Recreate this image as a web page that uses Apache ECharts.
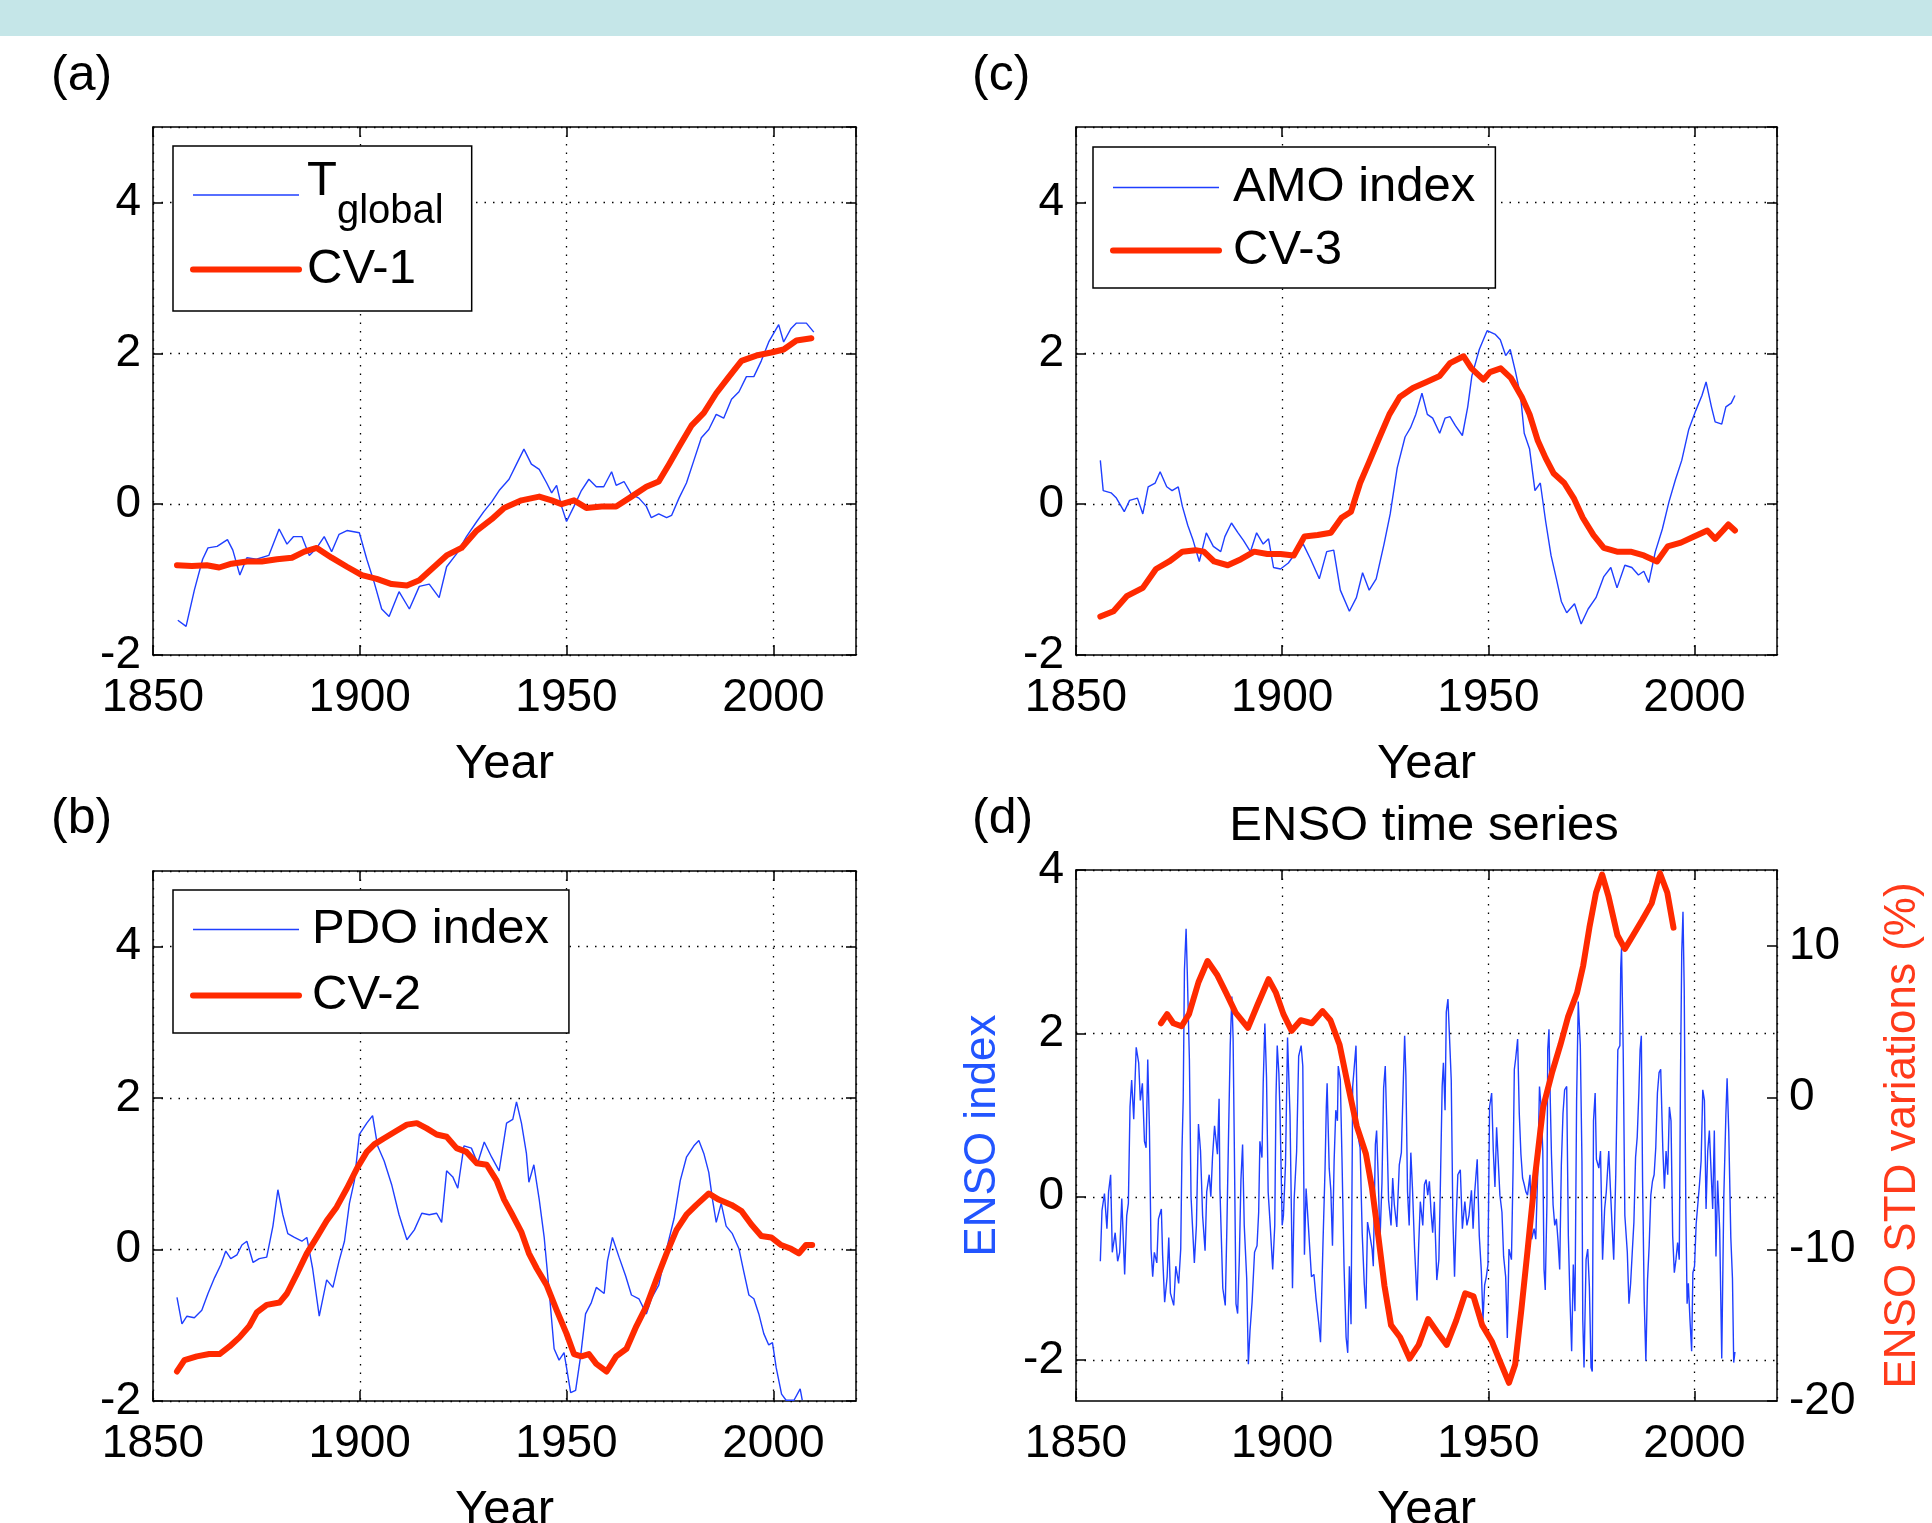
<!doctype html>
<html>
<head>
<meta charset="utf-8">
<title>Climate variability panels</title>
<script src="https://cdn.jsdelivr.net/npm/echarts@6/dist/echarts.min.js"></script>
<style>
  html, body {margin:0; padding:0; background:#fff;}
  #main {width:1932px; height:1523px;}
</style>
</head>
<body>
<div id="main"></div>
<script>
"use strict";
// ---- data: [year, value] ----
var tGlobal = [[1856,-1.54],[1858,-1.62],[1860,-1.14],[1862,-0.73],[1863.3,-0.58],[1865.5,-0.56],[1868,-0.47],[1869.3,-0.61],[1871,-0.94],[1872.7,-0.71],[1875,-0.73],[1878,-0.68],[1880.5,-0.33],[1882.4,-0.53],[1884,-0.43],[1886,-0.43],[1887.8,-0.68],[1889.6,-0.58],[1891.4,-0.43],[1893.2,-0.63],[1895,-0.40],[1896.9,-0.35],[1899.9,-0.38],[1901.7,-0.73],[1903.5,-1.04],[1905.3,-1.39],[1907.1,-1.49],[1909.5,-1.16],[1912,-1.39],[1914.4,-1.09],[1916.8,-1.06],[1919.2,-1.24],[1921,-0.83],[1923.4,-0.66],[1925.8,-0.43],[1928.3,-0.23],[1930,-0.10],[1931.9,0.03],[1933.7,0.18],[1936.1,0.33],[1937.9,0.53],[1939.7,0.73],[1941.5,0.53],[1943.4,0.46],[1945.2,0.28],[1946.4,0.15],[1947.6,0.25],[1948.8,-0.03],[1950,-0.23],[1951.8,-0.03],[1953.6,0.18],[1955.4,0.33],[1957.2,0.23],[1959,0.23],[1960.9,0.43],[1962,0.25],[1963.9,0.30],[1965.7,0.13],[1967.5,0.08],[1969.3,-0.03],[1970.5,-0.18],[1972.3,-0.13],[1974.2,-0.18],[1975.4,-0.15],[1977.2,0.08],[1979,0.28],[1980.8,0.58],[1982.6,0.88],[1984.4,0.99],[1986.2,1.19],[1988,1.14],[1989.9,1.39],[1991.7,1.49],[1993.5,1.69],[1995.3,1.69],[1997.1,1.90],[1998.9,2.15],[2001.3,2.38],[2002.5,2.15],[2004.3,2.33],[2005.6,2.40],[2008,2.40],[2009.8,2.28]];
var cv1 = [[1855.8,-0.81],[1859.4,-0.82],[1863,-0.81],[1866,-0.84],[1869,-0.79],[1872.7,-0.76],[1876.3,-0.76],[1880,-0.73],[1883.6,-0.71],[1886.6,-0.63],[1889.6,-0.58],[1893.2,-0.71],[1896.9,-0.83],[1900.5,-0.94],[1904.1,-0.99],[1907.7,-1.06],[1911.4,-1.08],[1914.4,-1.01],[1917.4,-0.86],[1921,-0.68],[1924.6,-0.58],[1928.3,-0.35],[1931.9,-0.20],[1934.9,-0.05],[1939.1,0.05],[1943.4,0.10],[1946.4,0.05],[1948.8,0.00],[1951.8,0.05],[1954.8,-0.05],[1958.5,-0.03],[1962,-0.03],[1965.7,0.10],[1969.3,0.23],[1972.3,0.30],[1974.8,0.53],[1977.2,0.76],[1980.2,1.04],[1983.2,1.21],[1986.2,1.47],[1989.3,1.69],[1992.3,1.90],[1995.9,1.97],[1999.5,2.01],[2002.5,2.05],[2005.6,2.17],[2009.2,2.20]];

var pdoIndex = [[1855.8,-0.63],[1857,-0.98],[1858.2,-0.88],[1860,-0.90],[1861.8,-0.80],[1863.3,-0.58],[1864.9,-0.37],[1866.4,-0.20],[1867.6,-0.02],[1868.8,-0.12],[1870.3,-0.07],[1871.5,0.06],[1872.7,0.11],[1874.2,-0.17],[1875.7,-0.12],[1877.5,-0.10],[1879,0.31],[1880.2,0.79],[1881.4,0.46],[1882.6,0.21],[1884.2,0.16],[1886,0.11],[1887.2,0.16],[1888.6,-0.25],[1890.2,-0.88],[1892,-0.40],[1893.5,-0.50],[1895,-0.15],[1896.3,0.11],[1897.5,0.61],[1898.7,0.91],[1899.9,1.52],[1901.7,1.67],[1903.1,1.77],[1904.3,1.37],[1905.9,1.17],[1907.7,0.86],[1909.5,0.46],[1911.4,0.13],[1913.2,0.26],[1915,0.48],[1916.8,0.46],[1918.6,0.48],[1919.8,0.36],[1921,1.04],[1922.5,0.96],[1923.7,0.81],[1925.2,1.37],[1927,1.34],[1928.5,1.14],[1930.1,1.42],[1931.9,1.22],[1933.7,1.04],[1935.5,1.67],[1937,1.72],[1937.9,1.95],[1939.1,1.67],[1940.3,1.27],[1940.9,0.89],[1942.1,1.12],[1943.4,0.66],[1944.6,0.16],[1945.8,-0.55],[1947,-1.31],[1948.2,-1.46],[1949.4,-1.36],[1951,-1.89],[1952.2,-1.86],[1953.4,-1.41],[1954.6,-0.85],[1956,-0.70],[1957.2,-0.50],[1959.1,-0.58],[1959.9,-0.15],[1961.1,0.16],[1962.7,-0.10],[1964.3,-0.35],[1965.7,-0.60],[1967.5,-0.65],[1969.3,-0.85],[1970.5,-0.65],[1972.3,-0.47],[1974.2,0.01],[1976,0.41],[1977.5,0.91],[1979,1.22],[1980.8,1.37],[1982,1.44],[1983.2,1.27],[1984.4,1.02],[1985.3,0.66],[1986.2,0.36],[1987.4,0.61],[1988.6,0.31],[1990.1,0.21],[1991.7,0.01],[1992.9,-0.30],[1994.1,-0.60],[1995.3,-0.65],[1996.5,-0.85],[1997.7,-1.11],[1998.9,-1.26],[1999.8,-1.23],[2000.7,-1.56],[2002,-1.91],[2003.1,-1.99],[2005,-1.99],[2006.5,-1.84],[2007,-1.99]];
var cv2 = [[1855.8,-1.61],[1857.6,-1.46],[1860.6,-1.41],[1863.6,-1.38],[1866.1,-1.38],[1868.5,-1.28],[1870.9,-1.16],[1873.3,-1.01],[1875.1,-0.83],[1877.5,-0.73],[1880.6,-0.70],[1882.4,-0.58],[1884.8,-0.32],[1887.2,-0.05],[1889.6,0.16],[1892,0.38],[1894.4,0.56],[1896.9,0.81],[1899.3,1.07],[1901.7,1.29],[1903.5,1.39],[1905.9,1.47],[1908.9,1.57],[1911.4,1.65],[1913.8,1.67],[1916.2,1.60],[1918.6,1.52],[1921,1.49],[1923.4,1.34],[1925.8,1.29],[1928.3,1.14],[1930.7,1.12],[1933.1,0.91],[1934.9,0.66],[1936.7,0.48],[1939.1,0.23],[1940.9,-0.05],[1942.8,-0.25],[1945.2,-0.47],[1947.6,-0.80],[1950,-1.11],[1951.8,-1.38],[1953.6,-1.41],[1955.4,-1.38],[1957.2,-1.51],[1959.7,-1.61],[1962,-1.41],[1964.5,-1.31],[1966.9,-1.01],[1969.3,-0.75],[1971.7,-0.40],[1974.2,-0.05],[1976.6,0.26],[1979,0.46],[1981.4,0.59],[1984.4,0.74],[1986.8,0.66],[1989.9,0.59],[1992.3,0.51],[1994.7,0.33],[1997.1,0.18],[1999.5,0.16],[2001.9,0.06],[2004.3,0.01],[2006.2,-0.05],[2007.9,0.06],[2009.4,0.06]];

var amoIndex = [[1855.9,0.58],[1856.6,0.18],[1858.5,0.15],[1859.8,0.08],[1861.7,-0.10],[1863,0.05],[1864.9,0.08],[1866.2,-0.13],[1867.5,0.23],[1869.2,0.28],[1870.4,0.43],[1872,0.23],[1873.3,0.18],[1874.8,0.23],[1875.8,-0.03],[1877.1,-0.28],[1878.4,-0.48],[1879.9,-0.76],[1881.6,-0.38],[1883.3,-0.56],[1885.1,-0.63],[1886.1,-0.43],[1887.7,-0.25],[1889.3,-0.38],[1890.6,-0.48],[1892.3,-0.63],[1893.8,-0.38],[1895.4,-0.53],[1896.7,-0.46],[1897.9,-0.84],[1899.6,-0.86],[1901.5,-0.78],[1903.5,-0.63],[1905.1,-0.53],[1906.9,-0.73],[1909,-0.99],[1910.8,-0.63],[1912.5,-0.61],[1914.1,-1.14],[1916.3,-1.42],[1918,-1.24],[1919.5,-0.91],[1921.1,-1.14],[1922.8,-0.99],[1924.7,-0.53],[1926.2,-0.13],[1927.9,0.48],[1929.8,0.89],[1931.1,1.01],[1932.4,1.19],[1933.9,1.47],[1935.2,1.19],[1936.5,1.14],[1938.2,0.94],[1939.5,1.14],[1940.7,1.16],[1942,1.04],[1943.7,0.91],[1945,1.29],[1946,1.70],[1947.8,2.05],[1949.7,2.30],[1951.7,2.25],[1952.9,2.18],[1954.2,1.97],[1955.3,2.05],[1956.6,1.75],[1957.8,1.44],[1958.7,0.94],[1960,0.73],[1961.3,0.18],[1962.6,0.28],[1963.9,-0.23],[1965.2,-0.68],[1966.5,-0.99],[1967.7,-1.29],[1969,-1.44],[1970.9,-1.32],[1972.5,-1.59],[1974.2,-1.39],[1976.1,-1.24],[1978,-0.96],[1979.7,-0.84],[1981.2,-1.11],[1983.1,-0.81],[1984.8,-0.84],[1986.4,-0.94],[1987.7,-0.89],[1988.9,-1.04],[1990.5,-0.63],[1992.2,-0.33],[1993.8,0.03],[1995.4,0.33],[1996.9,0.58],[1998.6,0.99],[2000.3,1.24],[2001.8,1.44],[2002.8,1.62],[2004.1,1.29],[2005,1.09],[2006.6,1.06],[2007.6,1.29],[2008.9,1.34],[2009.8,1.44]];
var cv3 = [[1855.9,-1.49],[1859.1,-1.42],[1862.3,-1.22],[1866.2,-1.11],[1869.4,-0.86],[1872.6,-0.76],[1875.8,-0.63],[1879,-0.61],[1881,-0.63],[1883.5,-0.76],[1886.8,-0.81],[1890,-0.73],[1893.2,-0.63],[1896.4,-0.66],[1899.6,-0.66],[1902.8,-0.68],[1905.4,-0.43],[1908.6,-0.41],[1911.8,-0.38],[1914.4,-0.18],[1916.7,-0.10],[1918.9,0.28],[1921.1,0.56],[1923.4,0.86],[1926,1.19],[1928.5,1.42],[1931.7,1.54],[1935,1.62],[1938.2,1.70],[1940.7,1.87],[1944,1.96],[1945.9,1.80],[1948.8,1.65],[1950.4,1.75],[1953,1.80],[1955.5,1.67],[1958.1,1.42],[1960,1.19],[1962,0.84],[1963.9,0.61],[1965.8,0.41],[1968.4,0.28],[1970.7,0.08],[1972.9,-0.18],[1975.5,-0.41],[1978,-0.58],[1981.2,-0.63],[1984.5,-0.63],[1987.7,-0.68],[1990.9,-0.76],[1993.5,-0.56],[1996.7,-0.51],[1999.9,-0.43],[2003.1,-0.35],[2005,-0.46],[2006.9,-0.35],[2008.2,-0.27],[2009.8,-0.35]];

var ensoIndex = [[1855.9,-0.79],[1856.3,-0.17],[1856.9,0.04],[1857.5,-0.39],[1857.9,0.06],[1858.4,0.27],[1858.8,-0.68],[1859.5,-0.44],[1860.1,-0.79],[1860.6,-0.68],[1861.1,-0.02],[1861.8,-0.95],[1862.3,-0.23],[1862.7,-0.08],[1863.1,1.10],[1863.5,1.43],[1864.0,0.95],[1864.6,1.83],[1865.2,1.64],[1865.6,1.18],[1866.1,1.39],[1866.6,0.68],[1867.0,0.60],[1867.4,1.68],[1867.8,0.85],[1868.2,-0.64],[1868.6,-0.98],[1869.0,-0.68],[1869.6,-0.81],[1870.0,-0.27],[1870.7,-0.15],[1871.0,-0.71],[1871.5,-1.29],[1872.1,-0.98],[1872.5,-0.50],[1872.9,-1.18],[1873.7,-1.33],[1874.2,-0.85],[1874.9,-1.06],[1875.4,-0.64],[1875.7,0.56],[1876.0,1.20],[1876.3,2.78],[1876.7,3.28],[1877.0,2.72],[1877.5,1.68],[1877.9,0.0],[1878.2,-0.31],[1878.7,-0.81],[1879.2,-0.35],[1879.7,0.89],[1880.2,0.56],[1880.7,-0.23],[1881.3,-0.66],[1881.7,0.06],[1882.3,0.27],[1882.7,0.0],[1883.1,0.48],[1883.6,0.87],[1884.3,0.52],[1884.7,1.20],[1884.9,0.10],[1885.6,-1.12],[1886.2,-1.33],[1886.6,-0.35],[1887.0,0.77],[1887.4,1.85],[1887.8,2.45],[1888.1,1.93],[1888.4,0.60],[1888.8,-1.31],[1889.2,-1.43],[1889.6,-0.77],[1890.0,0.21],[1890.4,0.64],[1890.8,-0.35],[1891.4,-1.00],[1891.8,-2.05],[1892.2,-1.64],[1892.7,-1.29],[1893.3,-0.68],[1893.9,-0.60],[1894.3,-0.19],[1894.6,0.68],[1895.1,0.48],[1895.4,1.39],[1895.8,2.12],[1896.2,1.47],[1896.6,0.06],[1897.1,-0.35],[1897.7,-0.89],[1898.2,-0.35],[1898.5,1.22],[1898.8,1.85],[1899.2,1.51],[1899.5,0.98],[1900.0,-0.35],[1900.3,-0.23],[1900.8,0.39],[1901.3,1.95],[1901.9,1.0],[1902.5,-1.12],[1902.9,-0.04],[1903.5,0.55],[1904.0,1.72],[1904.6,1.85],[1905.0,1.60],[1905.4,-0.71],[1905.8,0.10],[1906.3,-0.31],[1906.6,-0.33],[1907.1,-0.98],[1907.7,-0.95],[1908.2,-1.24],[1908.9,-1.56],[1909.3,-1.78],[1909.9,-0.56],[1910.4,0.35],[1910.7,1.10],[1910.9,1.39],[1911.4,0.35],[1911.8,0.08],[1912.2,-0.60],[1912.6,0.44],[1913.0,1.06],[1913.4,0.93],[1913.6,1.60],[1914.1,1.43],[1914.5,0.48],[1915.0,-0.85],[1915.5,-1.72],[1915.9,-1.91],[1916.3,-0.85],[1916.7,-1.56],[1917.1,1.35],[1917.5,1.35],[1917.9,1.85],[1918.3,0.77],[1918.9,0.60],[1919.4,-0.44],[1919.9,-1.06],[1920.3,-1.37],[1920.7,-0.31],[1921.3,-0.48],[1921.8,-0.64],[1922.1,-0.85],[1922.6,0.64],[1922.9,0.81],[1923.3,0.23],[1923.7,-0.56],[1924.2,0.17],[1924.6,1.33],[1925.0,1.60],[1925.4,0.81],[1925.8,-0.04],[1926.4,-0.35],[1926.8,0.23],[1927.2,-0.10],[1927.8,-0.37],[1928.4,0.39],[1928.9,0.54],[1929.4,1.45],[1929.7,1.97],[1930.0,1.49],[1930.4,0.06],[1930.8,-0.35],[1931.2,0.54],[1931.6,0.10],[1932.1,-0.62],[1932.7,-1.27],[1933.1,-0.60],[1933.5,-0.06],[1934.1,-0.35],[1934.5,0.15],[1934.9,0.21],[1935.3,0.02],[1935.7,0.19],[1936.1,-0.19],[1936.5,-0.44],[1936.9,-0.06],[1937.5,-1.02],[1938.0,-0.77],[1938.3,-0.04],[1938.8,1.35],[1939.1,1.64],[1939.5,1.06],[1939.8,2.26],[1940.2,2.42],[1940.6,1.93],[1941.0,1.43],[1941.4,-0.27],[1941.8,-0.98],[1942.2,-0.27],[1942.6,0.27],[1943.2,0.33],[1943.7,-0.39],[1944.3,-0.06],[1944.8,-0.35],[1945.3,-0.23],[1945.9,0.08],[1946.3,-0.39],[1946.7,0.06],[1947.3,0.46],[1947.8,-0.48],[1948.3,-0.91],[1948.7,-1.51],[1949.1,-1.08],[1949.5,-0.98],[1949.9,-0.83],[1950.3,1.10],[1950.8,1.27],[1951.2,0.56],[1951.6,0.12],[1952.0,0.85],[1952.4,0.85],[1952.8,0.02],[1953.3,-0.19],[1953.7,-0.73],[1954.2,-0.98],[1954.6,-1.73],[1955.0,-0.64],[1955.6,-0.77],[1956.0,0.35],[1956.3,1.56],[1956.6,1.68],[1957.1,1.93],[1957.5,1.02],[1957.9,0.52],[1958.3,0.23],[1958.7,0.15],[1959.1,0.06],[1959.5,0.02],[1960.1,0.27],[1960.5,-0.52],[1961.1,-0.39],[1961.5,-0.52],[1962.0,0.35],[1962.4,1.35],[1962.8,1.10],[1963.2,0.56],[1963.5,-0.89],[1963.8,-1.14],[1964.2,-0.10],[1964.4,1.80],[1964.7,2.05],[1965.0,1.22],[1965.3,0.52],[1965.7,-0.10],[1966.1,-0.35],[1966.5,-0.27],[1966.9,-0.54],[1967.3,-0.89],[1967.7,0.39],[1968.1,1.02],[1968.5,1.31],[1969.0,1.35],[1969.4,-0.48],[1969.8,-1.27],[1970.2,-1.89],[1970.6,-0.83],[1971.0,-1.40],[1971.4,1.17],[1971.8,2.39],[1972.3,1.85],[1972.7,0.44],[1972.9,-1.51],[1973.2,-2.09],[1973.7,-0.77],[1974.1,-0.64],[1974.5,-1.10],[1974.9,-2.09],[1975.2,-2.14],[1975.5,0.93],[1975.9,1.27],[1976.2,0.46],[1976.8,0.35],[1977.2,0.56],[1977.7,-0.77],[1978.2,-0.15],[1978.6,0.06],[1979.2,0.56],[1979.6,0.10],[1980.0,-0.35],[1980.4,-0.77],[1980.9,0.27],[1981.4,1.80],[1981.9,1.85],[1982.1,2.80],[1982.3,3.05],[1982.7,1.80],[1983.1,-0.23],[1983.7,-0.68],[1984.1,-1.31],[1984.5,-1.06],[1984.9,-0.68],[1985.3,-0.31],[1985.7,0.48],[1986.1,0.73],[1986.5,1.27],[1986.8,1.80],[1987.1,1.97],[1987.4,0.19],[1987.8,-1.27],[1988.2,-2.01],[1988.6,-1.02],[1989.0,-0.60],[1989.4,0.02],[1989.8,0.19],[1990.2,0.27],[1990.6,0.60],[1991.0,1.27],[1991.4,1.52],[1991.8,1.56],[1992.3,0.60],[1992.7,0.10],[1993.1,0.56],[1993.5,0.27],[1993.9,1.10],[1994.3,0.93],[1994.7,-0.48],[1995.1,-0.93],[1995.5,-0.77],[1995.9,-0.56],[1996.3,-0.77],[1996.6,1.50],[1996.9,2.99],[1997.2,3.49],[1997.5,2.54],[1997.9,-0.20],[1998.2,-1.31],[1998.5,-1.06],[1998.9,-1.51],[1999.3,-1.89],[1999.6,-0.93],[2000.0,-0.85],[2000.4,-0.33],[2000.8,-0.31],[2001.2,0.15],[2001.6,0.44],[2002.0,1.31],[2002.4,1.18],[2002.8,-0.15],[2003.2,0.56],[2003.6,0.81],[2004.0,0.81],[2004.4,-0.15],[2004.8,0.81],[2005.2,-0.73],[2005.6,0.20],[2006.1,-0.40],[2006.6,-1.98],[2007.1,0.00],[2007.6,1.00],[2007.9,1.45],[2008.3,0.80],[2008.8,-0.50],[2009.2,-1.00],[2009.5,-2.03],[2009.8,-1.90]];
var ensoStd = [[1870.6,4.9],[1872.1,5.5],[1873.6,4.9],[1875.6,4.7],[1877.4,5.5],[1879.7,7.6],[1881.9,9.0],[1884.2,8.1],[1886.4,6.9],[1888.7,5.6],[1891.7,4.6],[1894,6.1],[1896.7,7.8],[1898.5,6.9],[1900.3,5.5],[1902.3,4.4],[1904.5,5.1],[1907.2,4.9],[1909.8,5.7],[1911.7,5.1],[1913.9,3.5],[1915.8,1.0],[1918.1,-1.9],[1920.3,-3.7],[1921.8,-6.0],[1923.3,-9.1],[1924.8,-12.4],[1926.4,-15.0],[1928.6,-15.8],[1930.9,-17.2],[1933.1,-16.3],[1935.4,-14.6],[1937.7,-15.5],[1939.9,-16.3],[1942.2,-14.7],[1944.4,-12.9],[1946.4,-13.1],[1948.5,-15.0],[1950.9,-16.1],[1952.7,-17.3],[1955,-18.8],[1956.5,-17.6],[1958,-14.0],[1959.5,-10.1],[1961.4,-5.0],[1963.3,-0.6],[1965.5,1.7],[1967.5,3.5],[1969.3,5.3],[1971.5,6.9],[1973,8.7],[1974.5,11.2],[1976.1,13.5],[1977.6,14.7],[1979.1,13.3],[1981.3,10.7],[1983.1,9.8],[1985.1,10.7],[1987.3,11.7],[1989.6,12.8],[1991.6,14.8],[1993.4,13.5],[1994.9,11.2]];

var ensoLeftTicks = [-2, 0, 2, 4];

// ---- styling ----
var FONT = '"Liberation Sans", Arial, Helvetica, sans-serif';
var BLUE = '#1f3fff';
var RED = '#ff2a00';
var FS = 46;		// tick labels
var FS_BIG = 49;	// legend, axis names, titles

var grids = [
	{left:153, top:127, width:703, height:528},	// (a)
	{left:153, top:871, width:703, height:530},	// (b)
	{left:1076, top:127, width:701, height:528},	// (c)
	{left:1076, top:870, width:701, height:531}	// (d)
];

var axisLineStyle = {color:'#000', width:1.5};
var gridDots = {color:'#000', width:1.3, type:[1.5, 7]};
var labelStyle = {fontSize:FS, color:'#000', fontFamily:FONT};
var nameStyle = {fontSize:FS_BIG, color:'#000', fontFamily:FONT};

function xAxesFor(gi){
	return [{
		type:'value', gridIndex:gi, position:'bottom', min:1850, max:2020, interval:50,
		axisLine:{show:true, onZero:false, lineStyle:axisLineStyle},
		axisTick:{show:true, inside:true, length:10, lineStyle:axisLineStyle},
		axisLabel:Object.assign({margin:20, showMaxLabel:false, formatter:function(v){return String(v);}}, labelStyle),
		splitLine:{show:true, lineStyle:gridDots},
		name:'Year', nameLocation:'middle', nameGap:85, nameTextStyle:nameStyle
	},{
		type:'value', gridIndex:gi, position:'top', min:1850, max:2020, interval:50,
		axisLine:{show:true, onZero:false, lineStyle:axisLineStyle},
		axisTick:{show:true, inside:true, length:10, lineStyle:axisLineStyle},
		axisLabel:{show:false}, splitLine:{show:false}
	}];
}

function yAxesFor(gi){
	return [{
		type:'value', gridIndex:gi, position:'left', min:-2, max:5, interval:2,
		axisLine:{show:true, onZero:false, lineStyle:axisLineStyle},
		axisTick:{show:true, inside:true, length:10, lineStyle:axisLineStyle},
		axisLabel:Object.assign({margin:12, showMaxLabel:false}, labelStyle),
		splitLine:{show:true, lineStyle:gridDots}
	},{
		type:'value', gridIndex:gi, position:'right', min:-2, max:5, interval:2,
		axisLine:{show:true, onZero:false, lineStyle:axisLineStyle},
		axisTick:{show:true, inside:true, length:10, lineStyle:axisLineStyle},
		axisLabel:{show:false}, splitLine:{show:false}
	}];
}

var xAxis = [].concat(xAxesFor(0), xAxesFor(1), xAxesFor(2), xAxesFor(3));
var yAxis = [].concat(yAxesFor(0), yAxesFor(1), yAxesFor(2));
// (d): ENSO index on the left, STD variations on the right
yAxis.push({
	type:'value', gridIndex:3, position:'left', min:-2.5, max:4,
	axisLine:{show:true, onZero:false, lineStyle:axisLineStyle},
	axisTick:{show:true, inside:true, length:10, lineStyle:axisLineStyle, customValues:ensoLeftTicks},
	axisLabel:Object.assign({margin:12, customValues:ensoLeftTicks}, labelStyle),
	splitLine:{show:true, lineStyle:gridDots},
	name:'ENSO index', nameLocation:'middle', nameRotate:90, nameGap:71,
	nameTextStyle:{fontSize:44, color:'#2255ff', fontFamily:FONT}
});
yAxis.push({
	type:'value', gridIndex:3, position:'right', min:-20, max:15, interval:10,
	axisLine:{show:true, onZero:false, lineStyle:axisLineStyle},
	axisTick:{show:true, inside:true, length:10, lineStyle:axisLineStyle},
	axisLabel:Object.assign({margin:12, showMaxLabel:false}, labelStyle),
	splitLine:{show:false},
	name:'ENSO STD variations (%)', nameLocation:'middle', nameRotate:90, nameGap:104,
	nameTextStyle:{fontSize:44, color:'#ff3a1a', fontFamily:FONT}
});

function thin(name, data, xi, yi){
	return {name:name, type:'line', data:data, xAxisIndex:xi, yAxisIndex:yi, symbol:'none',
		lineStyle:{color:BLUE, width:1.4}, itemStyle:{color:BLUE}, z:2, silent:true, animation:false};
}
function thick(name, data, xi, yi){
	return {name:name, type:'line', data:data, xAxisIndex:xi, yAxisIndex:yi, symbol:'none',
		lineStyle:{color:RED, width:6, join:'round', cap:'round'}, itemStyle:{color:RED}, z:3, silent:true, animation:false};
}

function richFor(textPad){
	return {
		t:{fontSize:FS_BIG, lineHeight:FS_BIG, fontFamily:FONT, color:'#000', padding:[0,0,27,textPad]},
		g:{fontSize:40, lineHeight:40, fontFamily:FONT, color:'#000', padding:[34,0,0,0]},
		n:{fontSize:FS_BIG, fontFamily:FONT, color:'#000', padding:[0,0,0,textPad]}
	};
}
// legend entries: plain line icons, no marker in the middle
function entry(name, color, width){
	return {name:name, lineStyle:{color:color, width:width, type:'solid'}, itemStyle:{opacity:0, color:'rgba(0,0,0,0)', borderWidth:0}};
}
function legendFor(names, left, top, gap, pad, textPad){
	return {
		data:[entry(names[0], BLUE, 1.4), entry(names[1], RED, 6)],
		left:left, top:top, orient:'vertical', selectedMode:false,
		itemWidth:106, itemHeight:2, itemGap:gap,
		padding:pad,
		borderColor:'#000', borderWidth:1.5, borderRadius:0, backgroundColor:'#fff',
		formatter:function(n){ return n === 'Tglobal' ? '{t|T}{g|global}' : '{n|' + n + '}'; },
		textStyle:{rich:richFor(textPad)}
	};
}

var titleStyle = {fontSize:50, fontWeight:'normal', color:'#000', fontFamily:FONT};

var myChart = echarts.init(document.getElementById('main'), null, {renderer:'canvas'});
myChart.setOption({
	animation:false,
	backgroundColor:'#fff',
	graphic:[{type:'rect', left:0, top:0, shape:{width:1932, height:36}, style:{fill:'#c5e6e8'}, z:-1}],
	title:[
		{text:'(a)', left:46, top:46, textStyle:titleStyle},
		{text:'(b)', left:46, top:789, textStyle:titleStyle},
		{text:'(c)', left:967, top:46, textStyle:titleStyle},
		{text:'(d)', left:967, top:789, textStyle:titleStyle},
		{text:'ENSO time series', left:1419, textAlign:'center', top:797,
			textStyle:{fontSize:FS_BIG, fontWeight:'normal', color:'#000', fontFamily:FONT}}
	],
	grid:grids.map(function(g){ return Object.assign({containLabel:false, outerBoundsMode:'none'}, g); }),
	xAxis:xAxis,
	yAxis:yAxis,
	legend:[
		legendFor(['Tglobal','CV-1'], 173, 146, 12, [11, 28, 17, 17], 3),
		legendFor(['PDO index','CV-2'], 173, 890, 17, [15, 20, 13, 17], 8),
		legendFor(['AMO index','CV-3'], 1093, 147, 14, [16, 20, 13, 17], 9)
	],
	series:[
		thin('Tglobal', tGlobal, 0, 0),
		thick('CV-1', cv1, 0, 0),
		thin('PDO index', pdoIndex, 2, 2),
		thick('CV-2', cv2, 2, 2),
		thin('AMO index', amoIndex, 4, 4),
		thick('CV-3', cv3, 4, 4),
		thin('ENSO index', ensoIndex, 6, 6),
		thick('ENSO STD', ensoStd, 6, 7)
	]
});
</script>
</body>
</html>
